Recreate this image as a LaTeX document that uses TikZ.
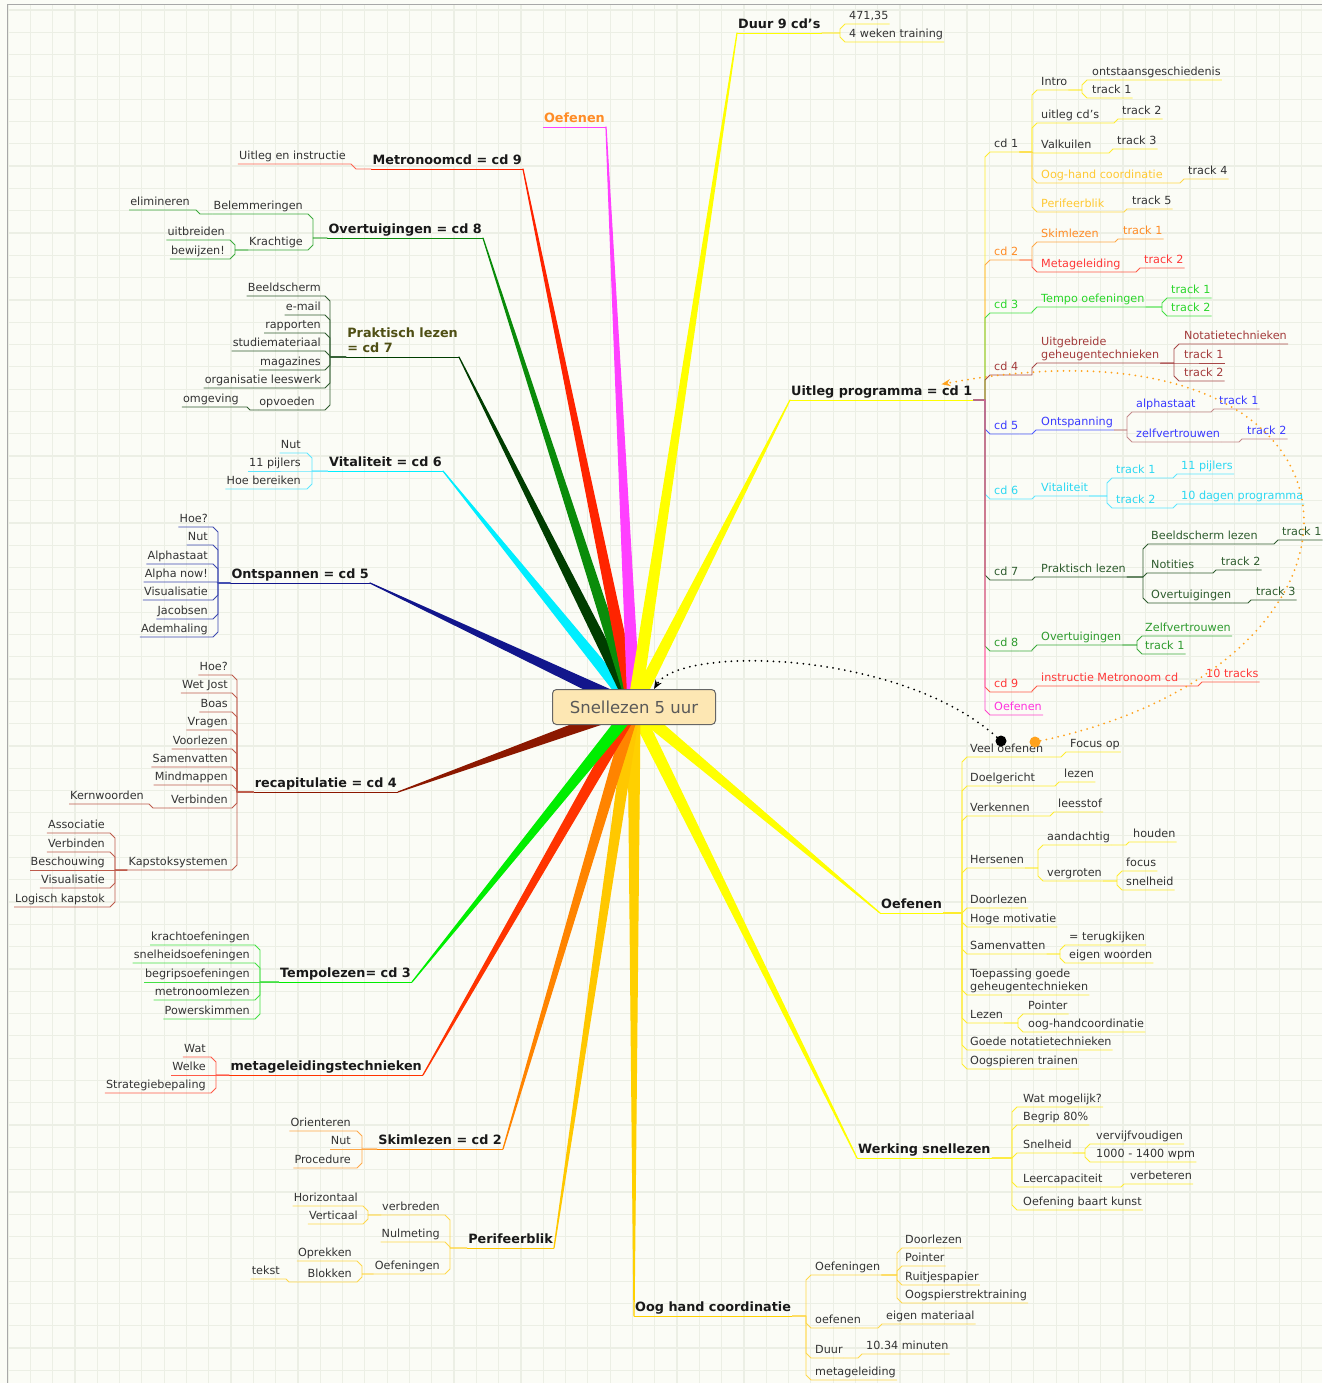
\documentclass[tikz,border=0pt]{standalone}
\usepackage{fontspec}
\setmainfont{DejaVu Sans}
\usetikzlibrary{calc,arrows.meta}

% paper and text
\definecolor{paper}{HTML}{FBFCF6}
\definecolor{gridc}{HTML}{ECEFE5}
\definecolor{frame}{HTML}{A8A8A8}
\definecolor{ink}{HTML}{333333}
\definecolor{boxfill}{HTML}{FDE7B3}
% main branches
\definecolor{navy}{HTML}{12168C}
\definecolor{aqua}{HTML}{00EEFF}
\definecolor{forest}{HTML}{003D00}
\definecolor{leaf}{HTML}{0A8C0A}
\definecolor{scarlet}{HTML}{FF2400}
\definecolor{fuchsia}{HTML}{FF40FF}
\definecolor{lemon}{HTML}{FFFF00}
\definecolor{gold}{HTML}{FFD000}
\definecolor{amber}{HTML}{FFC800}
\definecolor{tangerine}{HTML}{FF8400}
\definecolor{flame}{HTML}{FF3300}
\definecolor{lime}{HTML}{00EE00}
\definecolor{maroon}{HTML}{8C1800}
% thin lines
\definecolor{lnavy}{HTML}{3C48B0}
\definecolor{laqua}{HTML}{5CE6FF}
\definecolor{lforest}{HTML}{2F5C2F}
\definecolor{lleaf}{HTML}{3CAA3C}
\definecolor{lscarlet}{HTML}{FF6452}
\definecolor{llemon}{HTML}{FFEC2E}
\definecolor{lgold}{HTML}{FFD84A}
\definecolor{ltang}{HTML}{FFA848}
\definecolor{lflame}{HTML}{FF5A48}
\definecolor{llime}{HTML}{44E044}
\definecolor{lmaroon}{HTML}{BE5C4C}
\definecolor{lbrown}{HTML}{A84848}
\definecolor{lblue}{HTML}{4D5AFF}
\definecolor{rosy}{HTML}{C48A8A}
\definecolor{lfuchsia}{HTML}{FF44CC}
% coloured texts
\definecolor{torange}{HTML}{FF8C26}
\definecolor{tred}{HTML}{FF3838}
\definecolor{tgreen}{HTML}{2AD62A}
\definecolor{tbrown}{HTML}{A33B3B}
\definecolor{tblue}{HTML}{3A3AFF}
\definecolor{tcyan}{HTML}{2CD8F2}
\definecolor{tforest}{HTML}{2E5C2E}
\definecolor{tleaf}{HTML}{2E9B2E}
\definecolor{tmag}{HTML}{FF33DD}
\definecolor{tgold}{HTML}{FFC933}
\definecolor{tolive}{HTML}{4F4F14}
\definecolor{dotorange}{HTML}{FFA21C}

\tikzset{
  tx/.style={font=\fontsize{11.2}{13}\selectfont, text=ink, inner xsep=1pt, inner ysep=1.5pt},
  lb/.style={tx, text height=8.3pt, text depth=2.5pt},
  rt/.style={lb, anchor=south west},
  lt/.style={lb, anchor=south east},
  hdb/.style={font=\fontsize{12.8}{15}\selectfont\bfseries, text=black!90, inner xsep=1pt, inner ysep=1.5pt},
  hd/.style={hdb, text height=9.8pt, text depth=2.5pt},
  hr/.style={hd, anchor=south west},
  hl/.style={hd, anchor=south east},
  ln/.style={line width=0.9pt, line join=round},
  gridln/.style={draw=gridc, line width=1.2pt},
  rel/.style={line width=2pt, line cap=round, dash pattern=on 0pt off 6pt},
  dot/.style={circle, inner sep=0pt, minimum size=11pt},
}

% parent -> child, spine at x = #4, bevelled corner at the child
\newcommand\rlink[4][]{\draw[ln,#1] let \p1=(#2.south east), \p2=(#3.south east),
  \n1={min(5,abs(\y2-\y1))}, \n2={sign(\y2-\y1)} in
  (\p1) -- (#4,\y1) -- (#4,{\y2-\n2*\n1}) -- ({#4+\n1},\y2) -- (\p2);}
\newcommand\llink[4][]{\draw[ln,#1] let \p1=(#2.south west), \p2=(#3.south west),
  \n1={min(5,abs(\y2-\y1))}, \n2={sign(\y2-\y1)} in
  (\p1) -- (#4,\y1) -- (#4,{\y2-\n2*\n1}) -- ({#4-\n1},\y2) -- (\p2);}
% tapered main branch from the centre
\newcommand\rbranch[2]{%
  \filldraw[#1, line width=1.2pt, line join=round]
    ($(ctr)!6pt!90:(#2.south west)$) -- (#2.south west) -- ($(ctr)!6pt!-90:(#2.south west)$) -- cycle;
  \draw[ln,#1] (#2.south west) -- (#2.south east);}
\newcommand\lbranch[2]{%
  \filldraw[#1, line width=1.2pt, line join=round]
    ($(ctr)!6pt!90:(#2.south east)$) -- (#2.south east) -- ($(ctr)!6pt!-90:(#2.south east)$) -- cycle;
  \draw[ln,#1] (#2.south east) -- (#2.south west);}

\begin{document}
\begin{tikzpicture}[x=1pt,y=-1pt]
  \useasboundingbox (0,0) rectangle (1322,1383);
  \fill[paper] (0,0) rectangle (1322,1383);
  \foreach \i in {0,...,59} \draw[gridln] (8+22.3*\i,5) -- (8+22.3*\i,1383);
  \foreach \j in {0,...,61} \draw[gridln] (7,10+22.3*\j) -- (1322,10+22.3*\j);
  \draw[frame, line width=1pt] (7,1383) -- (7,5) -- (1322,5);

  \coordinate (ctr) at (634,707);

  % ---- upper left
  \node[hl] (ons) at (370,583) {Ontspannen = cd 5};
  \node[lt] (ons1) at (209,527) {Hoe?};
  \node[lt] (ons2) at (209,545) {Nut};
  \node[lt] (ons3) at (209,564) {Alphastaat};
  \node[lt] (ons4) at (209,582) {Alpha now!};
  \node[lt] (ons5) at (209,600) {Visualisatie};
  \node[lt] (ons6) at (209,619) {Jacobsen};
  \node[lt] (ons7) at (209,637) {Ademhaling};

  \node[hl] (vit) at (443,471) {Vitaliteit = cd 6};
  \node[lt] (vit1) at (302,453) {Nut};
  \node[lt] (vit2) at (302,471) {11 pijlers};
  \node[lt] (vit3) at (302,489) {Hoe bereiken};

  \node[hdb, anchor=south east, align=left, text=tolive] (prk) at (459,357) {Praktisch lezen\\= cd 7\vphantom{g}};
  \node[lt] (prk1) at (322,296) {Beeldscherm};
  \node[lt] (prk2) at (322,315) {e-mail};
  \node[lt] (prk3) at (322,333) {rapporten};
  \node[lt] (prk4) at (322,351) {studiemateriaal};
  \node[lt] (prk5) at (322,370) {magazines};
  \node[lt] (prk6) at (322,388) {organisatie leeswerk};
  \node[lt] (prk7) at (316,410) {opvoeden};
  \node[lt] (prk8) at (240,407) {omgeving};

  \node[hl] (ovt) at (483,238) {Overtuigingen = cd 8};
  \node[lt] (ovt1) at (304,214) {Belemmeringen};
  \node[lt] (ovt2) at (304,250) {Krachtige};
  \node[lt] (ovt3) at (191,210) {elimineren};
  \node[lt] (ovt4) at (226,240) {uitbreiden};
  \node[lt] (ovt5) at (226,259) {bewijzen!};

  \node[hl] (met) at (523,169) {Metronoomcd = cd 9};
  \node[lt] (met1) at (347,164) {Uitleg en instructie};

  \node[hl, text=torange] (oefT) at (606,127) {Oefenen};

  % ---- upper right
  \node[hr] (duur) at (737,33) {Duur 9 cd's};
  \node[rt] (duur1) at (848,24) {471,35};
  \node[rt] (duur2) at (848,42) {4 weken training};

  \node[hr] (uit) at (790,400) {Uitleg programma = cd 1};
  \node[rt] (cd1) at (993,152) {cd 1};
  \node[rt, text=torange] (cd2) at (993,260) {cd 2};
  \node[rt, text=tgreen] (cd3) at (993,313) {cd 3};
  \node[rt, text=tbrown] (cd4) at (993,375) {cd 4};
  \node[rt, text=tblue] (cd5) at (993,434) {cd 5};
  \node[rt, text=tcyan] (cd6) at (993,499) {cd 6};
  \node[rt, text=tforest] (cd7) at (993,580) {cd 7};
  \node[rt, text=tleaf] (cd8) at (993,651) {cd 8};
  \node[rt, text=tred] (cd9) at (993,692) {cd 9};
  \node[rt, text=tmag] (cdO) at (993,715) {Oefenen};

  \node[rt] (intro) at (1040,90) {Intro};
  \node[rt] (ontst) at (1091,80) {ontstaansgeschiedenis};
  \node[rt] (tr11) at (1091,98) {track 1};
  \node[rt] (uitl) at (1040,123) {uitleg cd's};
  \node[rt] (tr12) at (1121,119) {track 2};
  \node[rt] (valk) at (1040,153) {Valkuilen};
  \node[rt] (tr13) at (1116,149) {track 3};
  \node[rt, text=tgold] (ooghd) at (1040,183) {Oog-hand coordinatie};
  \node[rt] (tr14) at (1187,179) {track 4};
  \node[rt, text=tgold] (perif) at (1040,212) {Perifeerblik};
  \node[rt] (tr15) at (1131,209) {track 5};

  \node[rt, text=torange] (skim) at (1040,242) {Skimlezen};
  \node[rt, text=torange] (tr21) at (1122,239) {track 1};
  \node[rt, text=tred] (metag) at (1040,272) {Metageleiding};
  \node[rt, text=tred] (tr22) at (1143,268) {track 2};

  \node[rt, text=tgreen] (tempo) at (1040,307) {Tempo oefeningen};
  \node[rt, text=tgreen] (tr31) at (1170,298) {track 1};
  \node[rt, text=tgreen] (tr32) at (1170,316) {track 2};

  \node[tx, anchor=south west, align=left, text=tbrown] (uitgb) at (1040,363) {Uitgebreide\\geheugentechnieken};
  \node[rt, text=tbrown] (notat) at (1183,344) {Notatietechnieken};
  \node[rt, text=tbrown] (tr41) at (1183,363) {track 1};
  \node[rt, text=tbrown] (tr42) at (1183,381) {track 2};

  \node[rt, text=tblue] (ontsp) at (1040,430) {Ontspanning};
  \node[rt, text=tblue] (alpha) at (1135,412) {alphastaat};
  \node[rt, text=tblue] (tr51) at (1218,409) {track 1};
  \node[rt, text=tblue] (zelfv) at (1135,442) {zelfvertrouwen};
  \node[rt, text=tblue] (tr52) at (1246,439) {track 2};

  \node[rt, text=tcyan] (vital) at (1040,496) {Vitaliteit};
  \node[rt, text=tcyan] (tr61) at (1115,478) {track 1};
  \node[rt, text=tcyan] (pijl) at (1180,474) {11 pijlers};
  \node[rt, text=tcyan] (tr62) at (1115,508) {track 2};
  \node[rt, text=tcyan] (dagen) at (1180,504) {10 dagen programma};

  \node[rt, text=tforest] (prakt) at (1040,577) {Praktisch lezen};
  \node[rt, text=tforest] (beeld) at (1150,544) {Beeldscherm lezen};
  \node[rt, text=tforest] (tr71) at (1281,540) {track 1};
  \node[rt, text=tforest] (notit) at (1150,573) {Notities};
  \node[rt, text=tforest] (tr72) at (1220,570) {track 2};
  \node[rt, text=tforest] (overt) at (1150,603) {Overtuigingen};
  \node[rt, text=tforest] (tr73) at (1255,600) {track 3};

  \node[rt, text=tleaf] (ovt8) at (1040,645) {Overtuigingen};
  \node[rt, text=tleaf] (zelf8) at (1144,636) {Zelfvertrouwen};
  \node[rt, text=tleaf] (tr81) at (1144,654) {track 1};

  \node[rt, text=tred] (instr) at (1040,686) {instructie Metronoom cd};
  \node[rt, text=tred] (tien) at (1205,682) {10 tracks};

  % ---- lower right
  \node[hr] (oef) at (880,913) {Oefenen};
  \node[rt] (oef1) at (969,757) {Veel oefenen};
  \node[rt] (focop) at (1069,752) {Focus op};
  \node[rt] (oef2) at (969,786) {Doelgericht};
  \node[rt] (lezen) at (1063,782) {lezen};
  \node[rt] (oef3) at (969,816) {Verkennen};
  \node[rt] (leesst) at (1057,812) {leesstof};
  \node[rt] (oef4) at (969,868) {Hersenen};
  \node[rt] (aand) at (1046,845) {aandachtig};
  \node[rt] (houden) at (1132,842) {houden};
  \node[rt] (vergr) at (1046,881) {vergroten};
  \node[rt] (focus) at (1125,871) {focus};
  \node[rt] (snelh) at (1125,890) {snelheid};
  \node[rt] (oef5) at (969,908) {Doorlezen};
  \node[rt] (oef6) at (969,927) {Hoge motivatie};
  \node[rt] (oef7) at (969,954) {Samenvatten};
  \node[rt] (terug) at (1068,945) {= terugkijken};
  \node[rt] (eigen) at (1068,963) {eigen woorden};
  \node[tx, anchor=south west, align=left] (oef8) at (969,995) {Toepassing goede\\geheugentechnieken};
  \node[rt] (oef9) at (969,1023) {Lezen};
  \node[rt] (pointr) at (1027,1014) {Pointer};
  \node[rt] (ooghc) at (1027,1032) {oog-handcoordinatie};
  \node[rt] (oef10) at (969,1050) {Goede notatietechnieken};
  \node[rt] (oef11) at (969,1069) {Oogspieren trainen};

  \node[hr] (wrk) at (857,1158) {Werking snellezen};
  \node[rt] (wrk1) at (1022,1107) {Wat mogelijk?};
  \node[rt] (wrk2) at (1022,1125) {Begrip 80\%};
  \node[rt] (wrk3) at (1022,1153) {Snelheid};
  \node[rt] (vijf) at (1095,1144) {vervijfvoudigen};
  \node[rt] (wpm) at (1095,1162) {1000 - 1400 wpm};
  \node[rt] (wrk4) at (1022,1187) {Leercapaciteit};
  \node[rt] (verb) at (1129,1184) {verbeteren};
  \node[rt] (wrk5) at (1022,1210) {Oefening baart kunst};

  \node[hr] (ohc) at (634,1316) {Oog hand coordinatie};
  \node[rt] (ohc1) at (814,1275) {Oefeningen};
  \node[rt] (doorl) at (904,1248) {Doorlezen};
  \node[rt] (point) at (904,1266) {Pointer};
  \node[rt] (ruitj) at (904,1285) {Ruitjespapier};
  \node[rt] (oogsp) at (904,1303) {Oogspierstrektraining};
  \node[rt] (ohc2) at (814,1328) {oefenen};
  \node[rt] (eigm) at (885,1324) {eigen materiaal};
  \node[rt] (ohc3) at (814,1358) {Duur};
  \node[rt] (minut) at (865,1354) {10.34 minuten};
  \node[rt] (ohc4) at (814,1380) {metageleiding};

  % ---- lower left
  \node[hl] (per) at (554,1248) {Perifeerblik};
  \node[lt] (per1) at (441,1215) {verbreden};
  \node[lt] (horiz) at (359,1206) {Horizontaal};
  \node[lt] (verti) at (359,1224) {Verticaal};
  \node[lt] (per2) at (441,1242) {Nulmeting};
  \node[lt] (per3) at (441,1274) {Oefeningen};
  \node[lt] (oprek) at (353,1261) {Oprekken};
  \node[lt] (blok) at (353,1282) {Blokken};
  \node[lt] (tekst) at (281,1279) {tekst};

  \node[hl] (skm) at (503,1149) {Skimlezen = cd 2};
  \node[lt] (skm1) at (352,1131) {Orienteren};
  \node[lt] (skm2) at (352,1149) {Nut};
  \node[lt] (skm3) at (352,1168) {Procedure};

  \node[hl] (mtg) at (423,1075) {metageleidingstechnieken};
  \node[lt] (mtg1) at (207,1057) {Wat};
  \node[lt] (mtg2) at (207,1075) {Welke};
  \node[lt] (mtg3) at (207,1093) {Strategiebepaling};

  \node[hl] (tmp) at (412,982) {Tempolezen= cd 3};
  \node[lt] (tmp1) at (251,945) {krachtoefeningen};
  \node[lt] (tmp2) at (251,963) {snelheidsoefeningen};
  \node[lt] (tmp3) at (251,982) {begripsoefeningen};
  \node[lt] (tmp4) at (251,1000) {metronoomlezen};
  \node[lt] (tmp5) at (251,1019) {Powerskimmen};

  \node[hl] (rcp) at (398,792) {recapitulatie = cd 4};
  \node[lt] (rcp1) at (229,675) {Hoe?};
  \node[lt] (rcp2) at (229,693) {Wet Jost};
  \node[lt] (rcp3) at (229,712) {Boas};
  \node[lt] (rcp4) at (229,730) {Vragen};
  \node[lt] (rcp5) at (229,749) {Voorlezen};
  \node[lt] (rcp6) at (229,767) {Samenvatten};
  \node[lt] (rcp7) at (229,785) {Mindmappen};
  \node[lt] (rcp8) at (229,808) {Verbinden};
  \node[lt] (kern) at (145,804) {Kernwoorden};
  \node[lt] (rcp9) at (229,870) {Kapstoksystemen};
  \node[lt] (kap1) at (106,833) {Associatie};
  \node[lt] (kap2) at (106,852) {Verbinden};
  \node[lt] (kap3) at (106,870) {Beschouwing};
  \node[lt] (kap4) at (106,888) {Visualisatie};
  \node[lt] (kap5) at (106,907) {Logisch kapstok};

  % ---- thick branches
  \lbranch{navy}{ons}
  \lbranch{aqua}{vit}
  \lbranch{forest}{prk}
  \lbranch{leaf}{ovt}
  \lbranch{scarlet}{met}
  \lbranch{fuchsia}{oefT}
  \rbranch{lemon}{duur}
  \rbranch{lemon}{uit}
  \rbranch{lemon}{oef}
  \rbranch{lemon}{wrk}
  \rbranch{gold}{ohc}
  \lbranch{amber}{per}
  \lbranch{tangerine}{skm}
  \lbranch{flame}{mtg}
  \lbranch{lime}{tmp}
  \lbranch{maroon}{rcp}

  % ---- thin links, left side
  \foreach \k in {1,...,7} {\llink[lnavy]{ons}{ons\k}{218}}
  \foreach \k in {1,2,3} {\llink[laqua]{vit}{vit\k}{312}}
  \foreach \k in {1,...,7} {\llink[lforest]{prk}{prk\k}{330}}
  \llink[lforest]{prk7}{prk8}{250}
  \llink[lleaf]{ovt}{ovt1}{313}
  \llink[lleaf]{ovt}{ovt2}{313}
  \llink[lleaf]{ovt1}{ovt3}{200}
  \llink[lleaf]{ovt2}{ovt4}{235}
  \llink[lleaf]{ovt2}{ovt5}{235}
  \llink[lscarlet]{met}{met1}{356}
  \foreach \k in {1,2,3} {\llink[lgold]{per}{per\k}{450}}
  \llink[lgold]{per1}{horiz}{368}
  \llink[lgold]{per1}{verti}{368}
  \llink[lgold]{per3}{oprek}{362}
  \llink[lgold]{per3}{blok}{362}
  \llink[lgold]{blok}{tekst}{289}
  \foreach \k in {1,2,3} {\llink[ltang]{skm}{skm\k}{362}}
  \foreach \k in {1,2,3} {\llink[lflame]{mtg}{mtg\k}{216}}
  \foreach \k in {1,...,5} {\llink[llime]{tmp}{tmp\k}{260}}
  \foreach \k in {1,...,9} {\llink[lmaroon]{rcp}{rcp\k}{237}}
  \llink[lmaroon]{rcp8}{kern}{153}
  \foreach \k in {1,...,5} {\llink[lmaroon]{rcp9}{kap\k}{115}}

  % ---- thin links, right side
  \rlink[llemon]{duur}{duur1}{840}
  \rlink[llemon]{duur}{duur2}{840}

  \rlink[llemon]{uit}{cd1}{985}
  \rlink[ltang]{uit}{cd2}{985}
  \rlink[llime]{uit}{cd3}{985}
  \rlink[lbrown]{uit}{cd4}{985}
  \rlink[lblue]{uit}{cd5}{985}
  \rlink[laqua]{uit}{cd6}{985}
  \rlink[lforest]{uit}{cd7}{985}
  \rlink[lleaf]{uit}{cd8}{985}
  \rlink[lflame]{uit}{cd9}{985}
  \rlink[lfuchsia]{uit}{cdO}{985}

  \foreach \c in {intro,uitl,valk} {\rlink[llemon]{cd1}{\c}{1032}}
  \foreach \c in {ooghd,perif} {\rlink[lgold]{cd1}{\c}{1032}}
  \rlink[llemon]{intro}{ontst}{1082}
  \rlink[llemon]{intro}{tr11}{1082}
  \rlink[llemon]{uitl}{tr12}{1114}
  \rlink[llemon]{valk}{tr13}{1109}
  \rlink[lgold]{ooghd}{tr14}{1180}
  \rlink[lgold]{perif}{tr15}{1124}

  \rlink[ltang]{cd2}{skim}{1032}
  \rlink[lflame]{cd2}{metag}{1032}
  \rlink[ltang]{skim}{tr21}{1115}
  \rlink[lflame]{metag}{tr22}{1136}

  \rlink[llime]{cd3}{tempo}{1032}
  \rlink[llime]{tempo}{tr31}{1162}
  \rlink[llime]{tempo}{tr32}{1162}

  \rlink[lbrown]{cd4}{uitgb}{1032}
  \foreach \c in {notat,tr41,tr42} {\rlink[lbrown]{uitgb}{\c}{1174}}

  \rlink[lblue]{cd5}{ontsp}{1032}
  \rlink[rosy]{ontsp}{alpha}{1127}
  \rlink[rosy]{ontsp}{zelfv}{1127}
  \rlink[rosy]{alpha}{tr51}{1211}
  \rlink[rosy]{zelfv}{tr52}{1239}

  \rlink[laqua]{cd6}{vital}{1032}
  \rlink[laqua]{vital}{tr61}{1107}
  \rlink[laqua]{vital}{tr62}{1107}
  \rlink[laqua]{tr61}{pijl}{1173}
  \rlink[laqua]{tr62}{dagen}{1173}

  \rlink[lforest]{cd7}{prakt}{1032}
  \foreach \c in {beeld,notit,overt} {\rlink[lforest]{prakt}{\c}{1143}}
  \rlink[lforest]{beeld}{tr71}{1274}
  \rlink[lforest]{notit}{tr72}{1213}
  \rlink[lforest]{overt}{tr73}{1248}

  \rlink[lleaf]{cd8}{ovt8}{1032}
  \rlink[lleaf]{ovt8}{zelf8}{1137}
  \rlink[lleaf]{ovt8}{tr81}{1137}

  \rlink[lflame]{cd9}{instr}{1032}
  \rlink[lflame]{instr}{tien}{1198}

  \foreach \k in {1,...,11} {\rlink[llemon]{oef}{oef\k}{962}}
  \rlink[llemon]{oef1}{focop}{1061}
  \rlink[llemon]{oef2}{lezen}{1055}
  \rlink[llemon]{oef3}{leesst}{1050}
  \rlink[llemon]{oef4}{aand}{1038}
  \rlink[llemon]{oef4}{vergr}{1038}
  \rlink[llemon]{aand}{houden}{1126}
  \rlink[llemon]{vergr}{focus}{1117}
  \rlink[llemon]{vergr}{snelh}{1117}
  \rlink[llemon]{oef7}{terug}{1060}
  \rlink[llemon]{oef7}{eigen}{1060}
  \rlink[llemon]{oef9}{pointr}{1018}
  \rlink[llemon]{oef9}{ooghc}{1018}

  \foreach \k in {1,...,5} {\rlink[llemon]{wrk}{wrk\k}{1012}}
  \rlink[llemon]{wrk3}{vijf}{1085}
  \rlink[llemon]{wrk3}{wpm}{1085}
  \rlink[llemon]{wrk4}{verb}{1121}

  \foreach \k in {1,...,4} {\rlink[lgold]{ohc}{ohc\k}{806}}
  \foreach \c in {doorl,point,ruitj,oogsp} {\rlink[lgold]{ohc1}{\c}{897}}
  \rlink[lgold]{ohc2}{eigm}{878}
  \rlink[lgold]{ohc3}{minut}{858}

  % ---- centre
  \node[draw=black!60, fill=boxfill, rounded corners=4pt, line width=1pt,
        minimum width=163pt, minimum height=35pt,
        font=\fontsize{16.5}{19}\selectfont, text=black!65] (snel) at (ctr) {Snellezen 5 uur};

  % ---- relations
  \node[dot, fill=black] (bdot) at (1001,741) {};
  \node[dot, fill=dotorange] (odot) at (1035,742) {};
  \draw[rel, -{Stealth[length=9pt,width=7pt]}] (bdot) .. controls (900,650) and (680,645) .. ([xshift=20pt]snel.north);
  \draw[rel, dotorange, -{Stealth[length=9pt,width=7pt]}] (odot) .. controls (1420,660) and (1390,300) .. ([xshift=-32pt]uit.north east);
\end{tikzpicture}
\end{document}
